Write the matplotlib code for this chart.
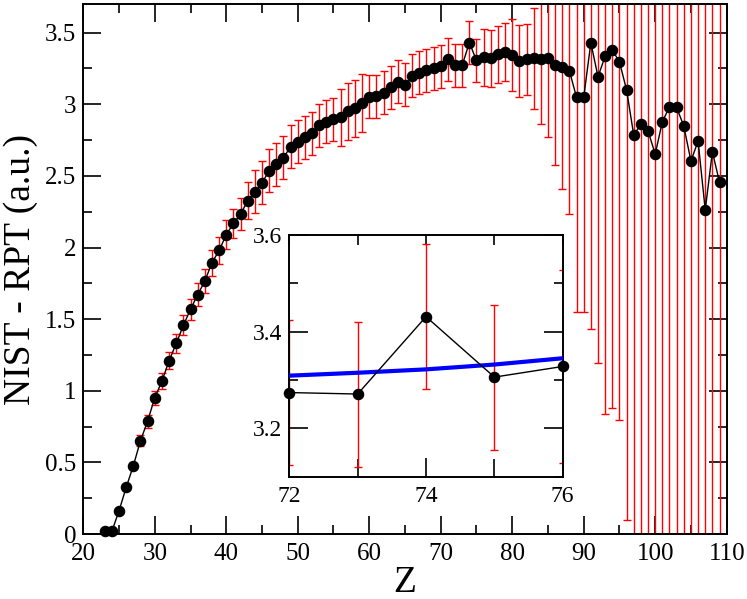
import matplotlib
matplotlib.use("Agg")
import matplotlib.pyplot as plt
import numpy as np
from matplotlib.ticker import MultipleLocator, FormatStrFormatter

# Z values and NIST - RPT differences
z_vals = list(range(23, 110))
diff_vals = [
    0.02, 0.02, 0.163, 0.326, 0.477, 0.652, 0.789, 0.952, 1.068, 1.21,
    1.331, 1.457, 1.569, 1.671, 1.766, 1.894, 1.98, 2.09, 2.169, 2.233,
    2.328, 2.39, 2.452, 2.536, 2.581, 2.627, 2.704, 2.739, 2.769, 2.797,
    2.855, 2.878, 2.894, 2.908, 2.952, 2.971, 3.01, 3.052, 3.057, 3.08,
    3.118, 3.157, 3.136, 3.199, 3.22, 3.239, 3.253, 3.267, 3.315, 3.274,
    3.271, 3.431, 3.306, 3.328, 3.32, 3.348, 3.366, 3.343, 3.301, 3.313,
    3.32, 3.313, 3.32, 3.273, 3.262, 3.234, 3.048, 3.048, 3.43, 3.192,
    3.336, 3.378, 3.297, 3.099, 2.785, 2.862, 2.815, 2.652, 2.878, 2.983,
    2.978, 2.848, 2.604, 2.743, 2.262, 2.669, 2.455,
]
err_vals = [
    0.015, 0.015, 0.015, 0.015, 0.015, 0.04, 0.045, 0.05, 0.055, 0.06,
    0.065, 0.07, 0.075, 0.08, 0.085, 0.09, 0.095, 0.1, 0.1, 0.11,
    0.13, 0.15, 0.15, 0.15, 0.15, 0.15, 0.15, 0.15, 0.15, 0.15,
    0.15, 0.15, 0.15, 0.2, 0.2, 0.2, 0.2, 0.15, 0.15, 0.15,
    0.15, 0.15, 0.15, 0.15, 0.15, 0.15, 0.15, 0.15, 0.15, 0.15,
    0.15, 0.15, 0.15, 0.2, 0.2, 0.2, 0.2, 0.25, 0.25, 0.25,
    0.35, 0.45, 0.55, 0.7, 0.85, 1.0, 1.5, 1.5, 2.0, 2.0,
    2.5, 2.5, 2.5, 3.0, 3.5, 3.5, 3.5, 3.5, 3.5, 3.5,
    3.5, 3.5, 3.5, 3.5, 3.5, 3.5, 3.5,
]

# smooth fit shown only in the inset
fit_z = [72, 73, 74, 75, 76]
fit_vals = [3.309, 3.315, 3.322, 3.332, 3.345]

inset_range = (72, 76)

FONT = ["Liberation Serif", "DejaVu Serif"]


def style_axes(ax, major_len, minor_len, label_size):
    ax.tick_params(which="both", direction="in", top=True, right=True,
                   width=1.2, labelsize=label_size, pad=5)
    ax.tick_params(axis="x", which="both", pad=6.5)
    ax.tick_params(which="major", length=major_len)
    ax.tick_params(which="minor", length=minor_len)
    for s in ax.spines.values():
        s.set_linewidth(1.4)
    for lab in ax.get_xticklabels() + ax.get_yticklabels():
        lab.set_family(FONT)


def main():
    plt.rcParams["font.family"] = FONT
    fig = plt.figure(figsize=(7.47, 5.99), dpi=100)
    ax = fig.add_axes([0.1115, 0.1083, 0.8613, 0.885])

    z = np.array(z_vals)
    d = np.array(diff_vals)
    e = np.array(err_vals)

    ax.errorbar(z, d, yerr=e, fmt="none", ecolor="red", elinewidth=1.0,
                capsize=2.6, capthick=1.0, zorder=2)
    ax.plot(z, d, color="black", lw=1.0, marker="o", ms=7.3,
            markerfacecolor="black", markeredgecolor="black",
            zorder=3, clip_on=False)

    ax.set_xlim(20, 110)
    ax.set_ylim(0, 3.7)
    ax.xaxis.set_major_locator(MultipleLocator(10))
    ax.xaxis.set_minor_locator(MultipleLocator(5))
    ax.yaxis.set_major_locator(MultipleLocator(0.5))
    ax.yaxis.set_minor_locator(MultipleLocator(0.25))
    ax.yaxis.set_major_formatter(FormatStrFormatter("%g"))
    style_axes(ax, 13, 6.5, 18)
    ax.set_xlabel("Z", fontsize=27, labelpad=0)
    ax.set_ylabel("NIST - RPT (a.u.)", fontsize=27, labelpad=5)

    # inset zoom on Z = 72..76
    axin = fig.add_axes([0.3873, 0.2042, 0.366, 0.4035])
    axin.set_facecolor("white")
    lo, hi = inset_range
    sel = (z >= lo) & (z <= hi)
    axin.errorbar(z[sel], d[sel], yerr=e[sel], fmt="none", ecolor="red",
                  elinewidth=1.0, capsize=2.6, capthick=1.0, zorder=2)
    axin.plot(fit_z, fit_vals, color="blue", lw=3.0, zorder=3)
    axin.plot(z[sel], d[sel], color="black", lw=1.0, marker="o", ms=7.3,
              zorder=4, clip_on=False)
    axin.set_xlim(lo, hi)
    axin.set_ylim(3.1, 3.6)
    axin.xaxis.set_major_locator(MultipleLocator(2))
    axin.xaxis.set_minor_locator(MultipleLocator(1))
    axin.yaxis.set_major_locator(MultipleLocator(0.2))
    axin.yaxis.set_minor_locator(MultipleLocator(0.1))
    axin.yaxis.set_major_formatter(FormatStrFormatter("%.1f"))
    style_axes(axin, 13.5, 6.5, 17)
    axin.tick_params(axis="x", which="minor", length=13)
    # top ticks on the inset are short in the original
    for t in axin.xaxis.get_major_ticks() + axin.xaxis.get_minor_ticks():
        t.tick2line.set_markersize(7)

    fig.savefig("out.png", dpi=100)


if __name__ == "__main__":
    main()
